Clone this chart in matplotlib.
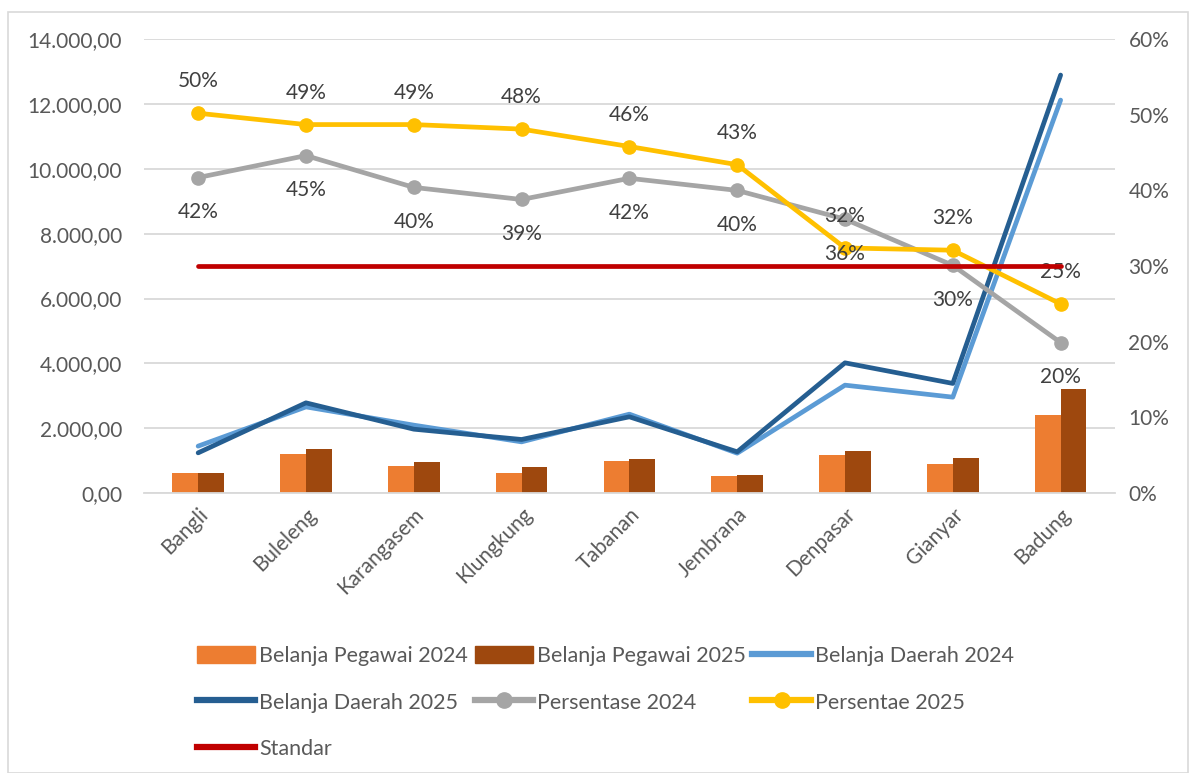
import numpy as np
import matplotlib.pyplot as plt
from matplotlib.ticker import FuncFormatter, MultipleLocator
from matplotlib.patches import Rectangle
from matplotlib.lines import Line2D

plt.rcParams['font.family'] = ['Lato', 'DejaVu Sans']

# Data
kabupaten = ['Bangli', 'Buleleng', 'Karangasem', 'Klungkung', 'Tabanan',
             'Jembrana', 'Denpasar', 'Gianyar', 'Badung']
pegawai_2024 = [607, 1200, 832, 617, 997, 524, 1192, 894, 2415]
pegawai_2025 = [615, 1357, 956, 792, 1058, 555, 1305, 1079, 3207]
daerah_2024 = [1450, 2660, 2097, 1582, 2436, 1233, 3330, 2960, 12118]
daerah_2025 = [1243, 2785, 1973, 1655, 2354, 1275, 4018, 3383, 12890]
persen_2024 = [41.7, 44.6, 40.4, 38.8, 41.6, 40.0, 36.2, 30.1, 19.9]
persen_2025 = [50.2, 48.7, 48.7, 48.1, 45.8, 43.4, 32.4, 32.1, 25.0]
standar = [30] * len(kabupaten)

c_txt = '#595959'
c_grid = '#D9D9D9'

fig = plt.figure(figsize=(11.92, 7.73), dpi=100)
ax = fig.add_axes([0.121, 0.362, 0.814, 0.5875])
ax2 = ax.twinx()

x = np.arange(len(kabupaten))
w = 0.24
ax.bar(x - w / 2, pegawai_2024, w, color='#ED7D31', zorder=2)
ax.bar(x + w / 2, pegawai_2025, w, color='#9E480E', zorder=2)
ax.plot(x, daerah_2024, color='#5B9BD5', lw=3.4, zorder=3, solid_capstyle='round')
ax.plot(x, daerah_2025, color='#255E91', lw=3.4, zorder=3, solid_capstyle='round')

ax2.plot(x, persen_2024, color='#A5A5A5', lw=3.4, marker='o', ms=9.5, zorder=3)
ax2.plot(x, persen_2025, color='#FFC000', lw=3.4, marker='o', ms=9.5, zorder=3)
ax2.plot(x, standar, color='#C00000', lw=3.4, zorder=4, solid_capstyle='round')

for xi, v in zip(x, persen_2024):
    ax2.annotate(f'{v:.0f}%', (xi, v), xytext=(0, -25), textcoords='offset points',
                 ha='center', va='center', fontsize=15, color='#404040')
for xi, v in zip(x, persen_2025):
    ax2.annotate(f'{v:.0f}%', (xi, v), xytext=(0, 23), textcoords='offset points',
                 ha='center', va='center', fontsize=15, color='#404040')

# axes
ax.set_xlim(-0.5, len(kabupaten) - 0.5)
ax.set_ylim(0, 14000)
ax.yaxis.set_major_locator(MultipleLocator(2000))
ax.yaxis.set_major_formatter(FuncFormatter(
    lambda v, p: f'{v:,.2f}'.replace(',', 'X').replace('.', ',').replace('X', '.')))
ax2.set_ylim(0, 60)
ax2.yaxis.set_major_locator(MultipleLocator(10))
ax2.yaxis.set_major_formatter(FuncFormatter(lambda v, p: f'{v:.0f}%'))

ax.grid(axis='y', color=c_grid, lw=1.3, zorder=0)
ax.set_axisbelow(True)
for a in (ax, ax2):
    for s in a.spines.values():
        s.set_visible(False)
    a.tick_params(length=0, labelsize=15, labelcolor=c_txt)
ax.spines['bottom'].set_visible(True)
ax.spines['bottom'].set_color(c_grid)
ax.spines['bottom'].set_linewidth(1.3)
ax.tick_params(axis='y', pad=16)
ax2.tick_params(axis='y', pad=10)

ax.set_xticks(x)
ax.set_xticklabels(kabupaten, rotation=45, ha='right', rotation_mode='anchor')
ax.tick_params(axis='x', pad=8)

# legend (row-major order like the original)
h_p24 = Rectangle((0, 0), 1, 1, color='#ED7D31')
h_p25 = Rectangle((0, 0), 1, 1, color='#9E480E')
h_d24 = Line2D([], [], color='#5B9BD5', lw=4.5)
h_d25 = Line2D([], [], color='#255E91', lw=4.5)
h_g24 = Line2D([], [], color='#A5A5A5', lw=4.5, marker='o', ms=11)
h_g25 = Line2D([], [], color='#FFC000', lw=4.5, marker='o', ms=11)
h_std = Line2D([], [], color='#C00000', lw=4.5)
handles = [h_p24, h_d25, h_std, h_p25, h_g24, h_d24, h_g25]
labels = ['Belanja Pegawai 2024', 'Belanja Daerah 2025', 'Standar',
          'Belanja Pegawai 2025', 'Persentase 2024', 'Belanja Daerah 2024',
          'Persentae 2025']
fig.legend(handles, labels, loc='upper left', bbox_to_anchor=(0.158, 0.176),
           ncol=3, frameon=False, fontsize=15.5, labelcolor=c_txt,
           handlelength=2.7, handleheight=0.9, handletextpad=0.2,
           columnspacing=0.3, labelspacing=1.22, borderaxespad=0)

fig.patches.append(Rectangle((0.007, 0.0), 0.99, 0.985, transform=fig.transFigure,
                             fill=False, edgecolor='#D9D9D9', lw=1.2))

plt.savefig('out.png', dpi=100)
